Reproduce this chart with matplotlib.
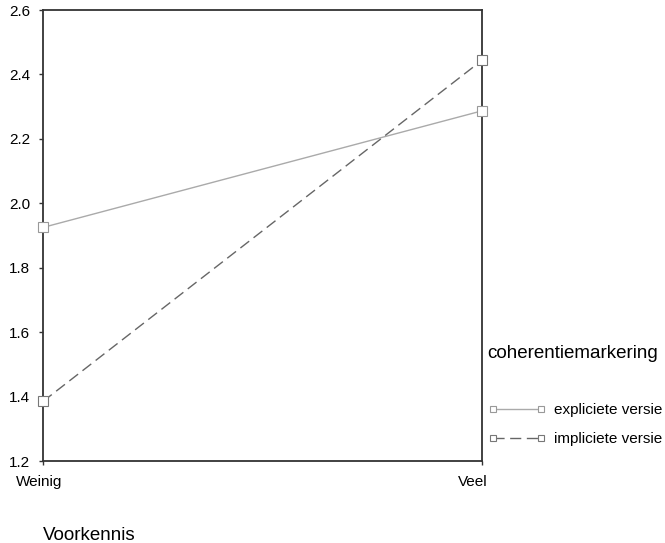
import matplotlib
matplotlib.use("Agg")
import matplotlib.pyplot as plt
from matplotlib.transforms import ScaledTranslation

plt.rcParams['font.family'] = ['Liberation Sans', 'DejaVu Sans']

categories = ["Weinig", "Veel"]
explicit_vals = [1.925, 2.287]
implicit_vals = [1.385, 2.444]
series_labels = ["expliciete versie", "impliciete versie"]
y_ticks = [1.2, 1.4, 1.6, 1.8, 2.0, 2.2, 2.4, 2.6]

W, H = 665, 543
fig = plt.figure(figsize=(W / 100, H / 100), dpi=100)
ax = fig.add_axes([43 / W, 1 - 461 / H, (482 - 43) / W, (461 - 10) / H])

x = list(range(len(categories)))
l1, = ax.plot(x, explicit_vals, color='#aaaaaa', lw=1.0, marker='s', ms=6.5,
              mfc='white', mec='#999999', mew=0.8, clip_on=False, zorder=3)
l2, = ax.plot(x, implicit_vals, color='#666666', lw=1.0, ls=(0, (8, 4)), marker='s',
              ms=6.5, mfc='white', mec='#777777', mew=0.8, clip_on=False, zorder=3)

ax.set_xlim(0, 1)
ax.set_ylim(1.2, 2.6)
ax.set_yticks(y_ticks)
ax.set_yticklabels([f"{v:.1f}" for v in y_ticks])
ax.set_xticks(x)
ax.set_xticklabels(categories)
for s in ax.spines.values():
    s.set_color('#333333')
    s.set_linewidth(1.3)
ax.tick_params(axis='y', length=3, width=1, color='#333333', pad=6, labelsize=11)
ax.tick_params(axis='x', length=3, width=1, color='#333333', pad=7, labelsize=11)

offsets = [-4, -9]
for lab, dx in zip(ax.get_xticklabels(), offsets):
    lab.set_transform(lab.get_transform() + ScaledTranslation(dx / 100, 0, fig.dpi_scale_trans))

fig.text(43 / W, 1 - 535 / H, "Voorkennis", fontsize=13.5, ha='left', va='center')
fig.text(487 / W, 1 - 353 / H, "coherentiemarkering", fontsize=13.5, ha='left', va='center')

leg = fig.legend([l1, l2], series_labels, loc='upper left',
                 bbox_to_anchor=(488 / W, 1 - 403 / H), frameon=False, fontsize=11,
                 numpoints=2, handlelength=3.74, handletextpad=0.55, borderpad=0,
                 borderaxespad=0, labelspacing=1.0, markerscale=0.75)

fig.savefig("out.png", dpi=100)
